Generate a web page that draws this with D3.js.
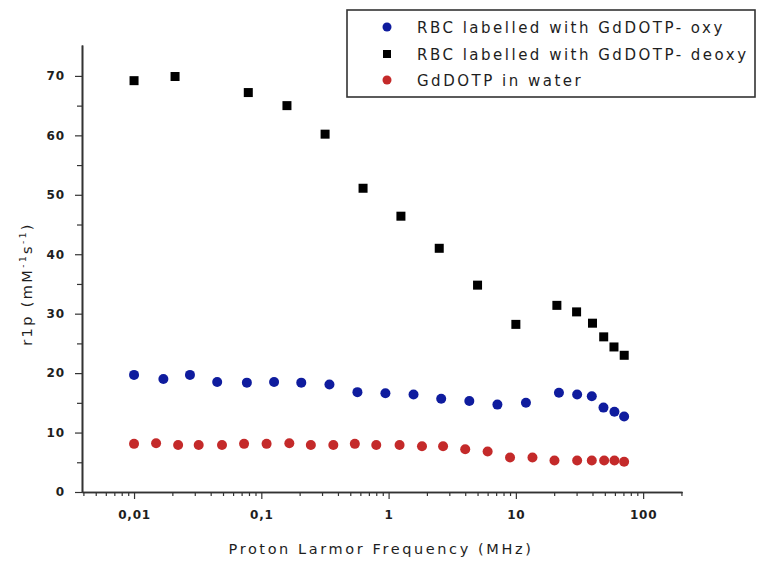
<!DOCTYPE html>
<html>
<head>
<meta charset="utf-8">
<script src="https://cdn.jsdelivr.net/npm/d3@7"></script>
<style>
  body { margin: 0; background: #fff; }
  svg { display: block; font-family: "DejaVu Sans", Verdana, sans-serif; }
</style>
</head>
<body>
<svg id="svg" width="758" height="563"></svg>
<script>
// RBC labelled with GdDOTP - deoxy
var freqDeoxy = [0.01, 0.021, 0.079, 0.159, 0.317, 0.63, 1.25, 2.5, 5.0, 10, 21, 30, 40, 49, 59, 71];
var r1Deoxy = [69.2, 69.9, 67.2, 65.0, 60.2, 51.1, 46.4, 41.0, 34.8, 28.2, 31.4, 30.3, 28.4, 26.1, 24.4, 23.0];

// RBC labelled with GdDOTP - oxy
var freqOxy = [0.01, 0.017, 0.0275, 0.045, 0.077, 0.126, 0.206, 0.343, 0.569, 0.944, 1.57, 2.59, 4.31, 7.16, 12.0, 21.8, 30.3, 39.5, 48.8, 59.5, 70.9];
var r1Oxy = [19.7, 19.0, 19.7, 18.5, 18.4, 18.5, 18.4, 18.1, 16.8, 16.6, 16.4, 15.7, 15.3, 14.7, 15.0, 16.7, 16.4, 16.1, 14.2, 13.5, 12.7];

// GdDOTP in water
var freqWater = [0.01, 0.0149, 0.0222, 0.0322, 0.0491, 0.0732, 0.110, 0.166, 0.245, 0.368, 0.543, 0.80, 1.22, 1.83, 2.68, 4.0, 6.0, 9.0, 13.5, 20.1, 30.3, 39.5, 49.4, 59.5, 70.9];
var r1Water = [8.1, 8.2, 7.9, 7.9, 7.9, 8.1, 8.1, 8.2, 7.9, 7.9, 8.1, 7.9, 7.9, 7.7, 7.7, 7.2, 6.8, 5.8, 5.8, 5.3, 5.3, 5.3, 5.3, 5.3, 5.1];

var xMajor = [0.01, 0.1, 1, 10, 100];
var xMajorLabels = ["0,01", "0,1", "1", "10", "100"];
var yMajor = [0, 10, 20, 30, 40, 50, 60, 70];
var yMinor = [5, 15, 25, 35, 45, 55, 65];

var legendLabels = ["RBC labelled with GdDOTP- oxy", "RBC labelled with GdDOTP- deoxy", "GdDOTP in water"];

var svg = d3.select("#svg");
var axisColor = "#333";
var textColor = "#1e1e1e";

var scaleX = d3.scaleLog().domain([0.0039, 202]).range([82, 682]);
var scaleY = d3.scaleLinear().domain([0, 75.2]).range([492, 45]);

// minor log ticks
var xMinor = [];
[0.001, 0.01, 0.1, 1, 10, 100].forEach(function(dec) {
	for (let k = 2; k <= 9; k++) {
		var v = dec * k;
		if (v > 0.0039 && v < 202) xMinor.push(v);
	}
});

// X axis
var gMinorX = svg.append("g").attr("transform", "translate(0,492)")
	.call(d3.axisBottom(scaleX).tickValues(xMinor).tickSize(4).tickFormat("").tickSizeOuter(0));
var gAxisX = svg.append("g").attr("transform", "translate(0,492)")
	.call(d3.axisBottom(scaleX).tickValues(xMajor).tickSize(7).tickSizeOuter(0)
		.tickFormat(function(d, i) { return xMajorLabels[i]; }));
gAxisX.selectAll("text").attr("dy", "1.4em");

// Y axis
var gMinorY = svg.append("g").attr("transform", "translate(82,0)")
	.call(d3.axisLeft(scaleY).tickValues(yMinor).tickSize(5).tickFormat("").tickSizeOuter(0));
var gAxisY = svg.append("g").attr("transform", "translate(82,0)")
	.call(d3.axisLeft(scaleY).tickValues(yMajor).tickSize(7).tickSizeOuter(0));
gAxisY.selectAll("text").attr("dx", "-0.6em");

svg.selectAll(".domain").attr("stroke", axisColor).attr("stroke-width", 1.6);
svg.selectAll(".tick line").attr("stroke", axisColor).attr("stroke-width", 1.2);
svg.selectAll(".tick text")
	.attr("fill", textColor)
	.style("font-family", "'DejaVu Sans', sans-serif")
	.style("font-size", "12px")
	.style("font-weight", "bold")
	.style("letter-spacing", "0.8px");

// Axis titles
svg.append("text")
	.attr("x", 381).attr("y", 554)
	.attr("text-anchor", "middle")
	.attr("fill", textColor)
	.style("font-size", "14.5px")
	.style("letter-spacing", "2.6px")
	.text("Proton Larmor Frequency (MHz)");

var yTitle = svg.append("text")
	.attr("transform", "translate(32,284) rotate(-90)")
	.attr("text-anchor", "middle")
	.attr("fill", textColor)
	.style("font-size", "14.5px")
	.style("letter-spacing", "2.4px");
yTitle.append("tspan").text("r1p (mM");
yTitle.append("tspan").attr("dy", -6).style("font-size", "9px").text("-1");
yTitle.append("tspan").attr("dy", 6).text("s");
yTitle.append("tspan").attr("dy", -6).style("font-size", "9px").text("-1");
yTitle.append("tspan").attr("dy", 6).text(")");

// Points
var blue = "#0f1c9e", red = "#c42a2a";
var oxy = freqOxy.map(function(f, i) { return { f: f, r: r1Oxy[i] }; });
var deoxy = freqDeoxy.map(function(f, i) { return { f: f, r: r1Deoxy[i] }; });
var water = freqWater.map(function(f, i) { return { f: f, r: r1Water[i] }; });

svg.selectAll("circle.water").data(water).enter().append("circle")
	.attr("class", "water")
	.attr("cx", function(d) { return scaleX(d.f); })
	.attr("cy", function(d) { return scaleY(d.r); })
	.attr("r", 5).attr("fill", red);

svg.selectAll("circle.oxy").data(oxy).enter().append("circle")
	.attr("class", "oxy")
	.attr("cx", function(d) { return scaleX(d.f); })
	.attr("cy", function(d) { return scaleY(d.r); })
	.attr("r", 5).attr("fill", blue);

svg.selectAll("rect.deoxy").data(deoxy).enter().append("rect")
	.attr("class", "deoxy")
	.attr("x", function(d) { return scaleX(d.f) - 4.5; })
	.attr("y", function(d) { return scaleY(d.r) - 4.5; })
	.attr("width", 9).attr("height", 9).attr("fill", "#000");

// Legend
var legend = svg.append("g");
legend.append("rect")
	.attr("x", 347).attr("y", 10).attr("width", 408).attr("height", 87)
	.attr("fill", "#fff").attr("stroke", axisColor).attr("stroke-width", 1.6);
var rowY = [27, 54, 80];
legend.append("circle").attr("cx", 387).attr("cy", rowY[0]).attr("r", 4.5).attr("fill", blue);
legend.append("rect").attr("x", 383).attr("y", rowY[1] - 4).attr("width", 8).attr("height", 8).attr("fill", "#000");
legend.append("circle").attr("cx", 387).attr("cy", rowY[2]).attr("r", 4.5).attr("fill", red);
legend.selectAll("text.leg").data(legendLabels).enter().append("text")
	.attr("class", "leg")
	.attr("x", 417)
	.attr("y", function(d, i) { return rowY[i] + 5.5; })
	.attr("fill", textColor)
	.style("font-size", "15px")
	.style("letter-spacing", "2.5px")
	.text(function(d) { return d; });
</script>
</body>
</html>
